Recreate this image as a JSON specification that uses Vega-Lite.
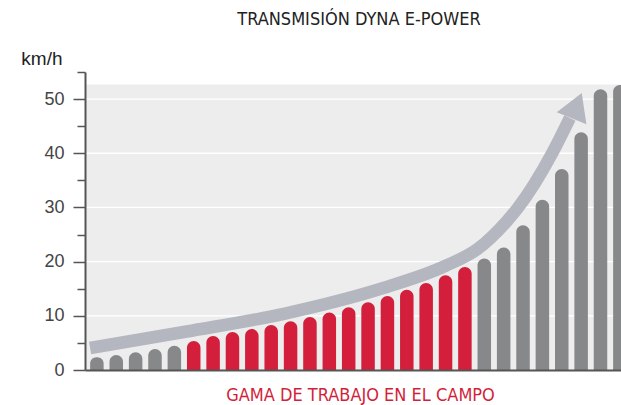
{
  "$schema": "https://vega.github.io/schema/vega-lite/v6.json",
  "width": 536,
  "height": 298,
  "autosize": {"type": "none"},
  "padding": {"left": 85, "top": 72, "right": 0, "bottom": 35},
  "background": "#ffffff",
  "config": {"view": {"stroke": null}},
  "title": {
    "text": "TRANSMISIÓN DYNA E-POWER",
    "font": "DejaVu Sans Condensed, sans-serif",
    "fontSize": 18,
    "fontWeight": "normal",
    "color": "#222222",
    "anchor": "middle",
    "dx": 6,
    "offset": 20
  },
  "datasets": {
    "speeds": [
      {"gear": 1, "kmh": 2.34, "gama": "otro"},
      {"gear": 2, "kmh": 2.77, "gama": "otro"},
      {"gear": 3, "kmh": 3.27, "gama": "otro"},
      {"gear": 4, "kmh": 3.87, "gama": "otro"},
      {"gear": 5, "kmh": 4.48, "gama": "otro"},
      {"gear": 6, "kmh": 5.35, "gama": "campo"},
      {"gear": 7, "kmh": 6.27, "gama": "campo"},
      {"gear": 8, "kmh": 7.0, "gama": "campo"},
      {"gear": 9, "kmh": 7.56, "gama": "campo"},
      {"gear": 10, "kmh": 8.3, "gama": "campo"},
      {"gear": 11, "kmh": 9.0, "gama": "campo"},
      {"gear": 12, "kmh": 9.8, "gama": "campo"},
      {"gear": 13, "kmh": 10.6, "gama": "campo"},
      {"gear": 14, "kmh": 11.6, "gama": "campo"},
      {"gear": 15, "kmh": 12.5, "gama": "campo"},
      {"gear": 16, "kmh": 13.65, "gama": "campo"},
      {"gear": 17, "kmh": 14.8, "gama": "campo"},
      {"gear": 18, "kmh": 16.05, "gama": "campo"},
      {"gear": 19, "kmh": 17.5, "gama": "campo"},
      {"gear": 20, "kmh": 19.0, "gama": "campo"},
      {"gear": 21, "kmh": 20.6, "gama": "otro"},
      {"gear": 22, "kmh": 22.6, "gama": "otro"},
      {"gear": 23, "kmh": 26.7, "gama": "otro"},
      {"gear": 24, "kmh": 31.4, "gama": "otro"},
      {"gear": 25, "kmh": 37.1, "gama": "otro"},
      {"gear": 26, "kmh": 43.9, "gama": "otro"},
      {"gear": 27, "kmh": 51.8, "gama": "otro"},
      {"gear": 28, "kmh": 52.6, "gama": "otro"}
    ],
    "gridlines": [
      {"v": 10}, {"v": 20}, {"v": 30}, {"v": 40}, {"v": 50}
    ],
    "arrow": [
      {"x": 0.65, "y": 4.06},
      {"x": 5.64, "y": 7.1},
      {"x": 10.71, "y": 10.42},
      {"x": 15.78, "y": 15.13},
      {"x": 18.98, "y": 19.19},
      {"x": 20.65, "y": 22.32},
      {"x": 22.17, "y": 27.49},
      {"x": 22.73, "y": 29.89},
      {"x": 24.51, "y": 40.04},
      {"x": 25.42, "y": 46.5}
    ],
    "head": [
      {"x": 25.69, "y": 48.1}
    ]
  },
  "layer": [
    {
      "data": {"values": [{"top": 52.7}]},
      "mark": {"type": "rect", "color": "#ededed"},
      "encoding": {
        "y": {"field": "top", "type": "quantitative", "scale": {"domain": [0, 55], "nice": false, "zero": true}, "axis": null},
        "y2": {"datum": 0}
      }
    },
    {
      "data": {"name": "gridlines"},
      "mark": {"type": "rule", "color": "#ffffff", "strokeWidth": 1.3},
      "encoding": {
        "y": {
          "field": "v",
          "type": "quantitative",
          "axis": {
            "values": [5, 15, 25, 35, 45, 55],
            "orient": "left",
            "tickSize": 8,
            "tickColor": "#555555",
            "tickWidth": 1.5,
            "labels": false,
            "domain": false,
            "grid": false,
            "title": null,
            "zindex": 1
          }
        }
      }
    },
    {
      "data": {"name": "speeds"},
      "mark": {"type": "bar", "orient": "vertical", "width": 13.5, "cornerRadiusTopLeft": 6.75, "cornerRadiusTopRight": 6.75},
      "encoding": {
        "x": {
          "field": "gear",
          "type": "quantitative",
          "scale": {"domain": [0.645, 27.8], "nice": false, "zero": false},
          "axis": {
            "orient": "bottom",
            "labels": false,
            "ticks": false,
            "grid": false,
            "domain": true,
            "domainColor": "#555555",
            "domainWidth": 2,
            "zindex": 2,
            "title": "GAMA DE TRABAJO EN EL CAMPO",
            "titleFont": "DejaVu Sans Condensed, sans-serif",
            "titleFontSize": 18,
            "titleFontWeight": "normal",
            "titleColor": "#d21f3c",
            "titleX": 275,
            "titleY": 30,
            "titleAlign": "center",
            "titleBaseline": "alphabetic"
          }
        },
        "y": {
          "field": "kmh",
          "type": "quantitative",
          "stack": null,
          "axis": {
            "values": [0, 10, 20, 30, 40, 50],
            "orient": "left",
            "tickSize": 12,
            "tickColor": "#555555",
            "tickWidth": 1.5,
            "domainColor": "#555555",
            "domainWidth": 2,
            "zindex": 2,
            "grid": false,
            "labelFont": "Liberation Sans, Arial, sans-serif",
            "labelFontSize": 18,
            "labelColor": "#444444",
            "labelPadding": 9,
            "title": "km/h",
            "titleFont": "Liberation Sans, Arial, sans-serif",
            "titleFontSize": 19,
            "titleFontWeight": "normal",
            "titleColor": "#222222",
            "titleAngle": 0,
            "titleAlign": "right",
            "titleBaseline": "alphabetic",
            "titleX": -23,
            "titleY": -8
          }
        },
        "color": {
          "field": "gama",
          "type": "nominal",
          "scale": {"domain": ["otro", "campo"], "range": ["#87888a", "#d31f3b"]},
          "legend": null
        }
      }
    },
    {
      "data": {"name": "arrow"},
      "mark": {"type": "line", "color": "#b4b7c0", "strokeWidth": 12.5, "interpolate": "monotone", "strokeCap": "butt"},
      "encoding": {
        "x": {"field": "x", "type": "quantitative", "axis": null},
        "y": {"field": "y", "type": "quantitative", "axis": null}
      }
    },
    {
      "data": {"name": "head"},
      "mark": {"type": "point", "shape": "M0,-1.1L1,0.59L-1,0.59Z", "filled": true, "color": "#b4b7c0", "opacity": 1, "size": 1024, "angle": 22, "strokeWidth": 0},
      "encoding": {
        "x": {"field": "x", "type": "quantitative", "axis": null},
        "y": {"field": "y", "type": "quantitative", "axis": null}
      }
    }
  ],
  "resolve": {"axis": {"x": "independent", "y": "independent"}}
}
